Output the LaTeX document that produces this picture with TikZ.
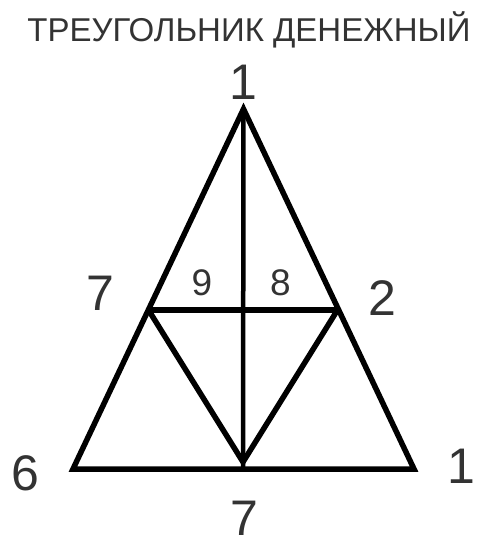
\documentclass[tikz,border=0pt]{standalone}
\usepackage{fontspec}
\setmainfont{Liberation Sans}
\definecolor{txt}{HTML}{333333}
\begin{document}
\begin{tikzpicture}[x=1pt,y=-1pt,
  lbl/.style={inner sep=0pt,anchor=base,text=txt},
  big/.style={lbl,font=\fontsize{50}{50}\selectfont},
  small/.style={lbl,font=\fontsize{37}{37}\selectfont},
  edge/.style={line width=5.5pt,line join=miter,black},
  mid/.style={line width=4.5pt,black}]
\useasboundingbox (0,0) rectangle (502,548);
\coordinate (A) at (243.5,109);
\coordinate (B) at (73,469);
\coordinate (C) at (414,469);
\coordinate (L) at (148.5,310);
\coordinate (R) at (337.5,310);
\coordinate (M) at (243,462);
\coordinate (Mb) at (243,467);
\node[lbl,font=\fontsize{33}{33}\selectfont] (title) at (249,41.5) {ТРЕУГОЛЬНИК ДЕНЕЖНЫЙ};
\node[big] (n1) at (243.5,100) {1};
\node[big] (n7l) at (100.5,310) {7};
\node[small] (n9) at (202,295) {9};
\node[small] (n8) at (280.5,295) {8};
\node[big] (n2) at (382.5,315) {2};
\node[big] (n6) at (25.5,490) {6};
\node[big] (n1r) at (461,483) {1};
\node[big] (n7b) at (244.5,535) {7};
\draw[mid] (A) -- (Mb);
\draw[edge] (L) -- (M) -- (R);
\draw[edge] (L) -- (R);
\draw[edge] (A) -- (B) -- (C) -- cycle;
\end{tikzpicture}
\end{document}
